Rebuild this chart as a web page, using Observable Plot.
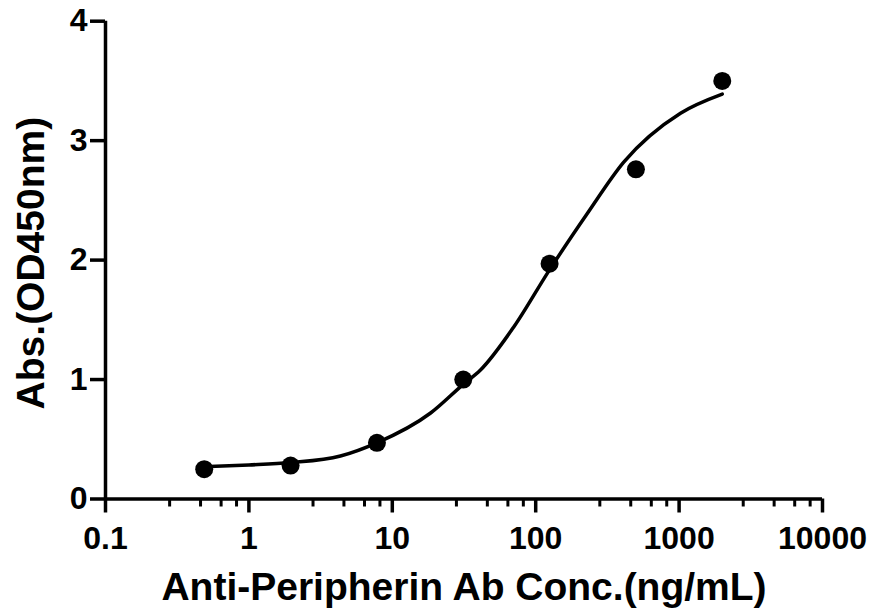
<!DOCTYPE html>
<html>
<head>
<meta charset="utf-8">
<script src="https://cdn.jsdelivr.net/npm/d3@7"></script>
<script src="https://cdn.jsdelivr.net/npm/@observablehq/plot@0.6"></script>
<style>
  html, body { margin: 0; padding: 0; background: #fff; }
  #chart svg { display: block; }
</style>
</head>
<body>
<div id="chart"></div>
<script>
// Measured points (concentration ng/mL, absorbance OD450)
const conc = [0.488, 1.953, 7.8125, 31.25, 125, 500, 2000];
const absorb = [0.25, 0.28, 0.47, 1.00, 1.97, 2.76, 3.50];

// Fitted curve
const curveConc = [0.488, 1.0, 1.95, 4.35, 7.8, 18.5, 31.25, 41.2, 70.3, 123.6, 229, 411, 1023, 2000];
const curveAbs  = [0.27, 0.285, 0.305, 0.36, 0.47, 0.72, 0.96, 1.08, 1.44, 1.91, 2.39, 2.82, 3.23, 3.39];

// Axis ticks
const xMajorTicks = [0.1, 1, 10, 100, 1000, 10000];
const xTickLabels = ["0.1", "1", "10", "100", "1000", "10000"];
const xMinorTicks = [0.28, 0.46, 0.64, 0.82, 2.8, 4.6, 6.4, 8.2, 28, 46, 64, 82,
                     280, 460, 640, 820, 2800, 4600, 6400, 8200];
const yTicks = [0, 1, 2, 3, 4];

const xTitle = "Anti-Peripherin Ab Conc.(ng/mL)";
const yTitle = "Abs.(OD450nm)";

const points = conc.map((c, i) => ({c, a: absorb[i]}));
const fit = curveConc.map((c, i) => ({c, a: curveAbs[i]}));

const font = "'Liberation Sans', Arial, Helvetica, sans-serif";

const chart = Plot.plot({
  width: 877,
  height: 612,
  marginLeft: 105,
  marginRight: 55,
  marginTop: 20.7,
  marginBottom: 113.5,
  style: {fontFamily: font, color: "#000", background: "#fff", overflow: "visible"},
  x: {type: "log", domain: [0.1, 10000]},
  y: {domain: [0, 4]},
  marks: [
    Plot.axisX(xMajorTicks, {
      tickSize: 14, strokeWidth: 3.5, tickPadding: 13,
      fontSize: 32, fontWeight: "bold", label: null,
      tickFormat: (d) => xTickLabels[xMajorTicks.indexOf(d)]
    }),
    Plot.axisX(xMinorTicks, {tickSize: 8, strokeWidth: 3, text: null, label: null}),
    Plot.axisY(yTicks, {
      tickSize: 15, strokeWidth: 3.5, tickPadding: 3,
      fontSize: 32, fontWeight: "bold", label: null,
      tickFormat: (d) => String(d)
    }),
    Plot.ruleY([0], {x1: 0.1, x2: 10000, strokeWidth: 3.5}),
    Plot.ruleX([0.1], {y1: 0, y2: 4, strokeWidth: 3.5}),
    Plot.line(fit, {x: "c", y: "a", curve: "monotone-x", strokeWidth: 3.5, stroke: "#000"}),
    Plot.dot(points, {x: "c", y: "a", r: 9, fill: "#000", stroke: null}),
    Plot.text([xTitle], {
      frameAnchor: "bottom", dy: 89, fontSize: 39, fontWeight: "bold",
      textAnchor: "middle", lineAnchor: "middle", fill: "#000"
    }),
    Plot.text([yTitle], {
      frameAnchor: "left", dx: -74, dy: 3, rotate: -90, fontSize: 39,
      fontWeight: "bold", textAnchor: "middle", lineAnchor: "middle", fill: "#000"
    })
  ]
});

document.getElementById("chart").appendChild(chart);
</script>
</body>
</html>
